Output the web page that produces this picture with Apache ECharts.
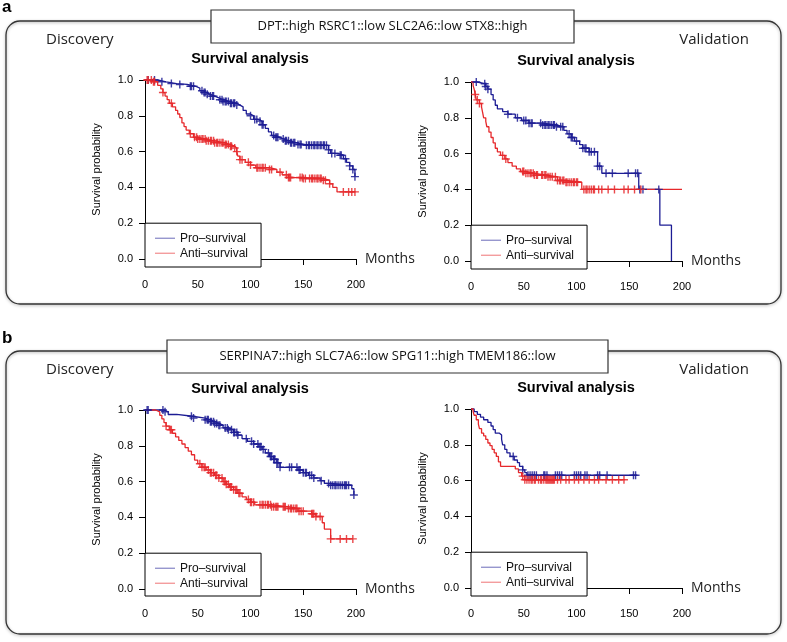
<!DOCTYPE html>
<html>
<head>
<meta charset="utf-8">
<script src="https://cdn.jsdelivr.net/npm/echarts@6/dist/echarts.min.js"></script>
<style>
  html, body { margin: 0; padding: 0; background: #fff; }
  #chart { width: 787px; height: 642px; }
</style>
</head>
<body>
<div id="chart"></div>
<script>
// Kaplan-Meier steps: [months, survival probability]; censor marks: months
const discAPro = [[0,1],[12,0.99],[20,0.98],[30,0.975],[40,0.965],[48,0.955],[52,0.94],[55,0.93],[58,0.92],[62,0.91],[66,0.90],[70,0.89],[74,0.88],[80,0.87],[87,0.86],[90,0.85],[93,0.83],[96,0.81],[100,0.80],[103,0.78],[107,0.77],[111,0.75],[114,0.73],[117,0.71],[120,0.69],[123,0.68],[127,0.67],[132,0.66],[137,0.65],[143,0.64],[150,0.635],[174,0.61],[176,0.59],[183,0.58],[188,0.56],[191,0.54],[194,0.52],[197,0.50],[199,0.46]];
const discAProCens = [3,9,16,25,33,43,44,46,54,56,57,59,62,64,65,71,73,74,76,77,79,81,82,84,85,87,100,104,106,109,111,112,122,124,125,126,131,133,134,136,138,139,141,142,145,147,148,153,155,156,158,160,161,163,164,166,167,169,170,172,174,177,180,185,186,190,194,197,199];
const discAAnti = [[0,1],[8,0.99],[12,0.97],[15,0.95],[17,0.93],[19,0.91],[21,0.89],[23,0.87],[26,0.85],[29,0.83],[31,0.81],[33,0.79],[35,0.76],[37,0.74],[39,0.72],[42,0.70],[46,0.68],[50,0.67],[58,0.66],[66,0.65],[75,0.64],[80,0.63],[85,0.62],[87,0.60],[88,0.575],[90,0.555],[95,0.54],[100,0.525],[105,0.51],[118,0.50],[125,0.485],[130,0.47],[136,0.455],[150,0.45],[168,0.44],[175,0.42],[178,0.40],[182,0.375],[199,0.375]];
const discAAntiCens = [2,3,6,8,9,17,25,43,47,49,50,52,54,55,57,58,60,62,63,65,66,68,69,71,73,74,76,77,79,81,82,85,87,90,92,98,100,106,107,109,111,112,114,118,120,128,134,136,137,138,147,149,150,152,156,158,159,161,163,164,166,167,169,171,175,188,193,196,199];

const valAPro = [[0,1],[6,0.99],[14,0.975],[16,0.96],[19,0.93],[21,0.90],[23,0.87],[25,0.85],[30,0.835],[35,0.82],[42,0.80],[48,0.785],[55,0.77],[68,0.76],[80,0.75],[88,0.73],[91,0.71],[95,0.69],[98,0.67],[103,0.65],[106,0.63],[112,0.61],[120,0.53],[124,0.49],[159,0.40],[179,0.20],[190,0.0]];
const valAProCens = [5,13,14,16,35,44,50,52,55,57,58,66,68,70,71,73,74,76,78,79,81,85,87,93,95,96,100,106,108,109,112,114,117,120,122,128,134,149,156,158,160,163,178];
const valAAnti = [[0,1],[2,0.98],[3,0.96],[4,0.93],[5,0.90],[8,0.88],[10,0.86],[11,0.83],[12,0.80],[14,0.78],[15,0.75],[17,0.72],[19,0.69],[21,0.66],[23,0.63],[25,0.61],[28,0.59],[32,0.57],[35,0.55],[39,0.53],[43,0.515],[47,0.50],[52,0.49],[60,0.48],[72,0.47],[82,0.45],[90,0.44],[105,0.40],[200,0.40]];
const valAAntiCens = [4,6,8,30,33,49,50,52,54,56,57,59,60,62,63,67,68,70,71,73,75,77,80,82,84,85,87,88,90,91,93,95,97,98,100,101,107,109,110,112,114,116,117,121,124,130,136,145,149,155,161];

const discBPro = [[0,1],[18,0.99],[22,0.975],[30,0.965],[45,0.955],[57,0.945],[62,0.935],[66,0.925],[70,0.915],[74,0.90],[79,0.89],[84,0.875],[88,0.86],[92,0.84],[97,0.825],[103,0.81],[108,0.795],[111,0.78],[114,0.76],[118,0.74],[122,0.725],[125,0.705],[128,0.68],[145,0.665],[150,0.65],[155,0.635],[160,0.62],[166,0.605],[170,0.59],[176,0.58],[196,0.56],[198,0.525]];
const discBProCens = [2,3,17,19,44,46,57,59,60,62,63,65,66,68,70,71,76,78,79,82,84,85,87,88,96,101,103,107,109,110,112,117,119,120,122,123,125,126,128,137,139,144,146,147,150,152,153,156,158,160,167,174,176,178,180,181,183,185,187,189,190,191,193,198];
const discBAnti = [[0,1],[10,0.99],[14,0.97],[16,0.95],[18,0.93],[20,0.91],[23,0.89],[26,0.87],[29,0.85],[32,0.83],[35,0.81],[38,0.79],[41,0.77],[44,0.75],[47,0.72],[50,0.70],[54,0.68],[58,0.665],[62,0.65],[66,0.635],[70,0.62],[74,0.60],[77,0.585],[80,0.57],[84,0.555],[88,0.535],[92,0.515],[96,0.50],[100,0.485],[104,0.47],[120,0.46],[135,0.45],[145,0.435],[158,0.42],[162,0.405],[168,0.37],[170,0.335],[176,0.28],[197,0.28]];
const discBAntiCens = [20,24,25,52,54,56,57,60,62,63,65,67,68,70,73,75,76,77,79,81,82,84,86,87,89,90,98,100,101,103,109,111,112,114,116,117,119,120,122,124,125,126,131,132,133,136,138,139,141,143,144,146,148,150,158,159,160,162,166,176,185,191,197];

const valBPro = [[0,1],[3,0.985],[6,0.97],[9,0.955],[12,0.94],[16,0.925],[19,0.905],[21,0.885],[23,0.865],[27,0.855],[29,0.83],[30,0.80],[32,0.775],[34,0.755],[37,0.735],[41,0.715],[44,0.70],[46,0.68],[49,0.66],[51,0.645],[53,0.63],[157,0.63]];
const valBProCens = [40,49,54,56,58,60,62,69,70,72,80,82,84,86,98,100,102,104,108,110,120,122,129,154,156];
const valBAnti = [[0,1],[2,0.985],[3,0.965],[5,0.94],[7,0.915],[8,0.89],[10,0.865],[12,0.85],[14,0.83],[16,0.81],[18,0.795],[20,0.775],[22,0.755],[24,0.735],[26,0.705],[28,0.68],[42,0.665],[45,0.645],[48,0.625],[51,0.605],[146,0.605]];
const valBAntiCens = [49,51,53,55,57,58,60,61,64,66,67,69,71,72,73,74,75,76,77,78,79,82,85,90,93,98,102,107,112,117,121,128,134,140,145];

const groupNames = ['Pro\u2013survival', 'Anti\u2013survival'];
const panelSignatures = ['DPT::high RSRC1::low SLC2A6::low STX8::high', 'SERPINA7::high SLC7A6::low SPG11::high TMEM186::low'];
const legendCutoff = [110, 0.2]; // legend box corner, in data units

const BLUE = '#1c1c94';
const RED = '#e6282b';
const SANS = '"Liberation Sans", Arial, sans-serif';
const ANNOT = '"Open Sans", "Liberation Sans", sans-serif';

const W = 211, H = 179;
const plots = [
  { left: 145, top: 80, axisY: 267, pro: discAPro, proC: discAProCens, anti: discAAnti, antiC: discAAntiCens },
  { left: 471, top: 82, axisY: 269, pro: valAPro, proC: valAProCens, anti: valAAnti, antiC: valAAntiCens },
  { left: 145, top: 410, axisY: 596, pro: discBPro, proC: discBProCens, anti: discBAnti, antiC: discBAntiCens },
  { left: 471, top: 409, axisY: 596, pro: valBPro, proC: valBProCens, anti: valBAnti, antiC: valBAntiCens }
];

function survAt(steps, t) {
  let s = steps[0][1];
  for (const [m, v] of steps) { if (m <= t) s = v; else break; }
  return s;
}

const cross = 'path://M5 0L5 10M0 5L10 5';
let grid = [], xAxis = [], yAxis = [], series = [], legend = [], graphic = [];

plots.forEach((p, i) => {
  grid.push({ left: p.left, top: p.top, width: W, height: H });
  xAxis.push({
    gridIndex: i, type: 'value', min: 0, max: 200, interval: 50,
    offset: p.axisY - (p.top + H),
    axisLine: { lineStyle: { color: '#000', width: 1 } },
    axisTick: { length: 6, lineStyle: { color: '#000' } },
    axisLabel: { color: '#000', fontSize: 11, fontFamily: SANS, margin: 12 },
    splitLine: { show: false },
    name: 'Months', nameLocation: 'end', nameGap: 9,
    nameTextStyle: { color: '#222', fontSize: 14, fontFamily: ANNOT, verticalAlign: 'middle' }
  });
  yAxis.push({
    gridIndex: i, type: 'value', min: 0, max: 1, interval: 0.2,
    axisLine: { show: true, lineStyle: { color: '#000', width: 1 } },
    axisTick: { show: true, length: 6, lineStyle: { color: '#000' } },
    axisLabel: { color: '#000', fontSize: 11, fontFamily: SANS, margin: 12, formatter: v => v.toFixed(1) },
    splitLine: { show: false },
    name: 'Survival probability', nameLocation: 'middle', nameGap: 43,
    nameTextStyle: { color: '#000', fontSize: 11, fontFamily: SANS }
  });

  [[p.pro, p.proC, BLUE, groupNames[0]], [p.anti, p.antiC, RED, groupNames[1]]].forEach(([steps, cens, col, nm]) => {
    series.push({
      name: nm, type: 'line', xAxisIndex: i, yAxisIndex: i, step: 'end',
      data: steps, symbol: 'none', clip: false,
      lineStyle: { color: col, width: 1.3 }, itemStyle: { color: col }
    });
    series.push({
      name: nm + ' censored', type: 'scatter', xAxisIndex: i, yAxisIndex: i,
      data: cens.map(t => [t, survAt(steps, t)]),
      symbol: cross, symbolSize: 8, clip: false,
      itemStyle: { color: 'none', borderColor: col, borderWidth: 1.4, opacity: 0.85 },
      z: 3
    });
  });

  // legend box: from (0, bottom axis) to (110 months, 0.2)
  const bx = p.left, by = p.top + (1 - legendCutoff[1]) * H;
  const bw = legendCutoff[0] / 200 * W, bh = p.axisY - by;
  graphic.push({ type: 'rect', shape: { x: bx, y: by, width: bw, height: bh },
    style: { fill: '#fff', stroke: '#000', lineWidth: 1 }, z: 1 });
  legend.push({
    data: groupNames, left: bx + 10, top: by + 8, orient: 'vertical',
    icon: 'rect', itemWidth: 20, itemHeight: 1, itemGap: 1, padding: 0, z: 5,
    textStyle: { fontSize: 12, fontFamily: SANS, color: '#111', lineHeight: 14 },
    itemStyle: { opacity: 0.65 }
  });

  graphic.push({ type: 'text', x: p.left + 105, y: p.top - 21,
    style: { text: 'Survival analysis', font: 'bold 14.5px ' + SANS, fill: '#000', textAlign: 'center', textVerticalAlign: 'middle' }, z: 5 });
});

// panel frames and labels
[[21, 'a', 7, { x: 211, w: 363 }, 0], [351, 'b', 338, { x: 167, w: 441 }, 1]].forEach(([top, letter, ly, tb, k]) => {
  graphic.push({ type: 'rect', shape: { x: 6, y: top, width: 775, height: 283, r: 14 },
    style: { fill: 'none', stroke: '#333', lineWidth: 1.3, shadowBlur: 3, shadowColor: 'rgba(0,0,0,0.35)', shadowOffsetY: 1 }, z: 0 });
  graphic.push({ type: 'rect', shape: { x: tb.x, y: top - 11, width: tb.w, height: 33 },
    style: { fill: '#fff', stroke: '#333', lineWidth: 1.2 }, z: 2 });
  graphic.push({ type: 'text', x: tb.x + tb.w / 2, y: top + 5.5,
    style: { text: panelSignatures[k], font: '13px ' + ANNOT, fill: '#111', textAlign: 'center', textVerticalAlign: 'middle' }, z: 3 });
  graphic.push({ type: 'text', x: 2, y: ly,
    style: { text: letter, font: 'bold 17px ' + SANS, fill: '#000', textVerticalAlign: 'middle' }, z: 3 });
  graphic.push({ type: 'text', x: 46, y: top + 19,
    style: { text: 'Discovery', font: '15px ' + ANNOT, fill: '#222', textVerticalAlign: 'middle' }, z: 3 });
  graphic.push({ type: 'text', x: 749, y: top + 18.5,
    style: { text: 'Validation', font: '15px ' + ANNOT, fill: '#222', textAlign: 'right', textVerticalAlign: 'middle' }, z: 3 });
});

const chart = echarts.init(document.getElementById('chart'), null, { renderer: 'canvas' });
chart.setOption({
  backgroundColor: '#fff',
  animation: false,
  grid, xAxis, yAxis, series, legend, graphic
});
</script>
</body>
</html>
